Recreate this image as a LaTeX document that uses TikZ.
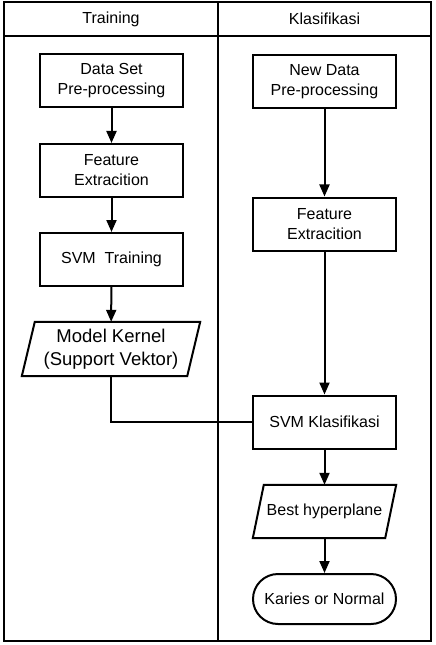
\documentclass[tikz,border=0pt]{standalone}
\usepackage{fontspec}
\setmainfont{Liberation Sans}
\usetikzlibrary{arrows.meta,calc}
\begin{document}
\begin{tikzpicture}[x=1bp,y=-1bp,
  procbox/.style={draw,line width=2bp,minimum width=143bp,minimum height=53bp,inner sep=0pt,align=center,font=\fontsize{16bp}{20bp}\selectfont},
  iobox/.style={minimum width=#1,minimum height=54bp,inner sep=0pt,align=center},
  termbox/.style={draw,line width=2bp,rounded corners=25bp,minimum width=143bp,minimum height=50bp,inner sep=0pt,align=center,font=\fontsize{16bp}{20bp}\selectfont},
  flow/.style={line width=2bp,-{Triangle[length=12bp,width=10bp]}},
  link/.style={line width=1.4bp},
  frame/.style={line width=1.8bp},
  head/.style={font=\fontsize{16bp}{20bp}\selectfont}
]
\useasboundingbox (0,0) rectangle (436,645);
% frame
\draw[frame] (4,2) rectangle (431,641);
\coordinate (htl) at (4,36);
\coordinate (htr) at (431,36);
\coordinate (dvt) at (218,2);
\coordinate (dvb) at (218,641);
\draw[frame] (htl) -- (htr);
\draw[frame] (dvt) -- (dvb);
\node[head] (h1) at (111,19) {Training};
\node[head] (h2) at (324.5,19) {Klasifikasi};
% left column
\node[procbox] (ds) at (111.5,81) {Data Set\\Pre-processing};
\node[procbox] (fe1) at (111.5,170.5) {Feature\\Extracition};
\node[procbox] (svt) at (111.5,259.5) {SVM\ \ Training};
\node[iobox=178bp,font=\fontsize{18.5bp}{23bp}\selectfont] (mk) at (111,349) {Model Kernel\\(Support Vektor)};
\draw[line width=2bp] ($(mk.north west)+(13,0)$) -- (mk.north east) -- ($(mk.south east)+(-13,0)$) -- (mk.south west) -- cycle;
% right column
\node[procbox] (nd) at (324.5,81.5) {New Data\\Pre-processing};
\node[procbox] (fe2) at (324.5,224) {Feature\\Extracition};
\node[procbox] (svk) at (324.5,422) {SVM Klasifikasi};
\node[iobox=143bp,minimum height=53bp,font=\fontsize{16bp}{20bp}\selectfont] (bh) at (324.5,511.5) {Best hyperplane};
\draw[line width=2bp] ($(bh.north west)+(11,0)$) -- (bh.north east) -- ($(bh.south east)+(-11,0)$) -- (bh.south west) -- cycle;
\node[termbox] (kn) at (324.5,599) {Karies or Normal};
% connectors
\draw[flow] (ds) -- (fe1);
\draw[flow] (fe1) -- (svt);
\draw[flow] (svt) -- (mk);
\draw[flow] (nd) -- (fe2);
\draw[flow] (fe2) -- (svk);
\draw[flow] (svk) -- (bh);
\draw[flow] (bh) -- (kn);
\draw[link] (mk.south) |- (svk.west);
\end{tikzpicture}
\end{document}
